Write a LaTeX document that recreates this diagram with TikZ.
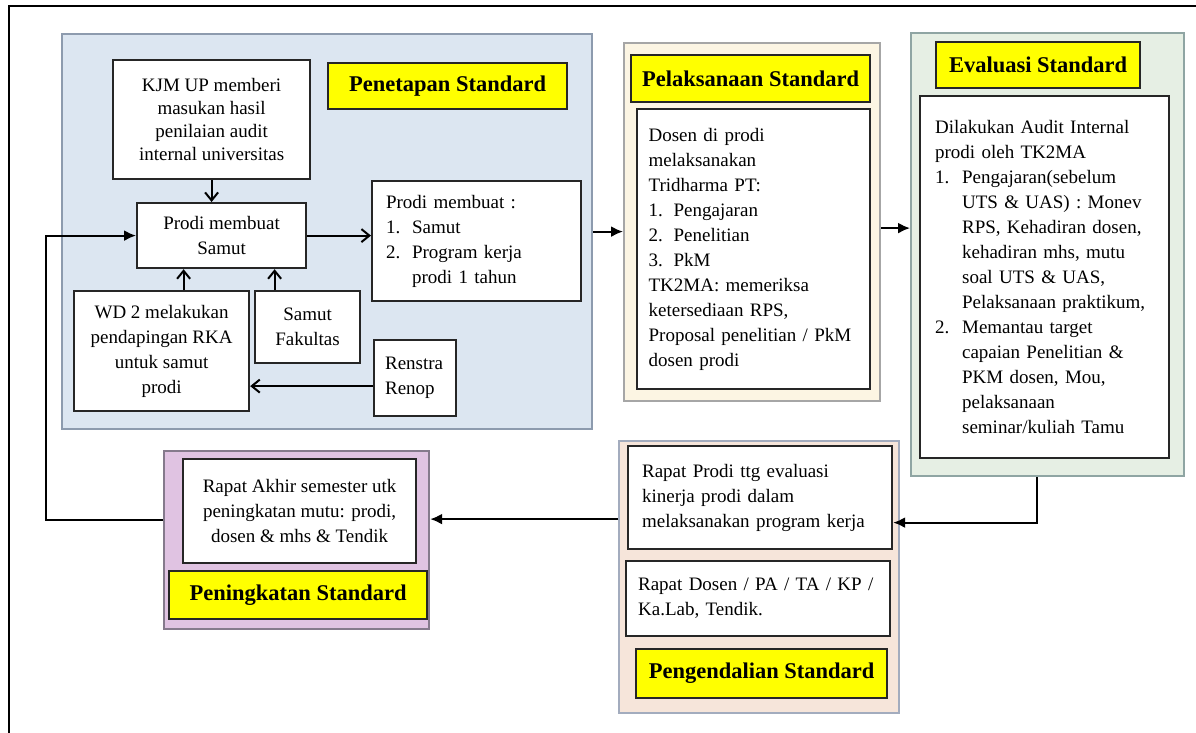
\documentclass[tikz,border=0pt]{standalone}
\usepackage{fontspec}
\setmainfont{Liberation Serif}
\usepackage{tikz}
\usetikzlibrary{arrows.meta}

\definecolor{penetapan}{HTML}{DCE6F1}
\definecolor{pelaksanaan}{HTML}{FCF5E3}
\definecolor{evaluasi}{HTML}{E6EFE4}
\definecolor{pengendalian}{HTML}{F6E5DA}
\definecolor{peningkatan}{HTML}{E0C3E2}
\definecolor{lineblue}{HTML}{8D9BAE}
\definecolor{linegray}{HTML}{A6A6A6}
\definecolor{lineteal}{HTML}{8FA5A3}
\definecolor{lineslate}{HTML}{A3ACBE}
\definecolor{lineplum}{HTML}{857A8C}
\definecolor{labelyellow}{HTML}{FFFF00}

\tikzset{
    grp/.style 2 args={draw=#2, line width=2.2pt, fill=#1, anchor=north west, inner sep=0pt},
    txtbox/.style={draw=black!85, line width=2.2pt, fill=white, anchor=north west,
        inner sep=0pt, font=\fontsize{19}{25}\selectfont},
    stdlabel/.style={draw=black!85, line width=2.2pt, fill=labelyellow, anchor=north west,
        inner sep=0pt, font=\fontsize{22.5}{26}\selectfont\bfseries},
    barb/.style={-{Straight Barb[length=8pt,width=13pt]}, line width=2pt},
    flow/.style={-{Latex[length=12pt,width=11pt]}, line width=2pt}
}

\begin{document}
\begin{tikzpicture}[x=1pt, y=-1pt]
        \useasboundingbox (0,0) rectangle (1196,733);

            % Penetapan
            \node[grp={penetapan}{lineblue}, minimum width=530pt, minimum height=395pt] (pen) at (61,33) {};
            \node[txtbox, minimum width=197pt, minimum height=119pt, align=center, font=\fontsize{19}{23}\selectfont] (kjm) at (112,59) {KJM UP memberi\\ masukan hasil\\ penilaian audit\\ internal universitas};
            \node[stdlabel, minimum width=239pt, minimum height=46pt] (penlbl) at (327,62) {Penetapan Standard};
            \node[txtbox, minimum width=169pt, minimum height=65pt, align=center] (samut) at (136,202) {Prodi membuat\\ Samut};
            \node[txtbox, inner xsep=14pt, text width=181pt, minimum height=120pt, align=left] (buat) at (371,180) {Prodi membuat :\\ \makebox[26pt][l]{1.}Samut\\ \makebox[26pt][l]{2.}Program kerja\\ \hspace*{26pt}prodi 1 tahun};
            \node[txtbox, minimum width=175pt, minimum height=120pt, align=center] (wd) at (73,290) {WD 2 melakukan\\ pendapingan RKA\\ untuk samut\\ prodi};
            \node[txtbox, minimum width=105pt, minimum height=72pt, align=center] (fak) at (254,290) {Samut\\ Fakultas};
            \node[txtbox, inner xsep=11pt, text width=60pt, minimum height=76pt, align=left] (renstra) at (373,339) {Renstra\\ Renop};

            % Pelaksanaan
            \node[grp={pelaksanaan}{linegray}, minimum width=256pt, minimum height=358pt] (pel) at (623,42) {};
            \node[stdlabel, minimum width=239pt, minimum height=47pt] (pellbl) at (630,54) {Pelaksanaan Standard};
            \node[txtbox, inner xsep=11.5pt, text width=210pt, minimum height=280pt, align=left] (tri) at (636,108) {Dosen di prodi\\ melaksanakan\\ Tridharma PT:\\ \makebox[25pt][l]{1.}Pengajaran\\ \makebox[25pt][l]{2.}Penelitian\\ \makebox[25pt][l]{3.}PkM\\ TK2MA: memeriksa\\ ketersediaan RPS,\\ Proposal penelitian / PkM\\ dosen prodi};

            % Evaluasi
            \node[grp={evaluasi}{lineteal}, minimum width=273pt, minimum height=443pt] (eva) at (910,32) {};
            \node[stdlabel, minimum width=204pt, minimum height=46pt] (evalbl) at (935,41) {Evaluasi Standard};
            \node[txtbox, inner xsep=15pt, text width=219pt, minimum height=362pt, align=left] (audit) at (919,95) {Dilakukan Audit Internal\\ prodi oleh TK2MA\\ \makebox[27pt][l]{1.}Pengajaran(sebelum\\ \hspace*{27pt}UTS \& UAS) : Monev\\ \hspace*{27pt}RPS, Kehadiran dosen,\\ \hspace*{27pt}kehadiran mhs, mutu\\ \hspace*{27pt}soal UTS \& UAS,\\ \hspace*{27pt}Pelaksanaan praktikum,\\ \makebox[27pt][l]{2.}Memantau target\\ \hspace*{27pt}capaian Penelitian \&\\ \hspace*{27pt}PKM dosen, Mou,\\ \hspace*{27pt}pelaksanaan\\ \hspace*{27pt}seminar/kuliah Tamu};

            % Pengendalian
            \node[grp={pengendalian}{lineslate}, minimum width=280pt, minimum height=272pt] (pgd) at (618,440) {};
            \node[txtbox, inner xsep=14pt, text width=236pt, minimum height=103pt, align=left] (rprodi) at (627,445) {Rapat Prodi ttg evaluasi\\ kinerja prodi dalam\\ melaksanakan program kerja};
            \node[txtbox, inner xsep=12pt, text width=240pt, minimum height=75pt, align=left] (rdosen) at (625,560) {Rapat Dosen / PA / TA / KP /\\ Ka.Lab, Tendik.};
            \node[stdlabel, minimum width=251pt, minimum height=49pt] (pgdlbl) at (635,648) {Pengendalian Standard};

            % Peningkatan
            \node[grp={peningkatan}{lineplum}, minimum width=265pt, minimum height=178pt] (pgk) at (163,450) {};
            \node[txtbox, minimum width=233pt, minimum height=104pt, align=center] (rakhir) at (182,458) {Rapat Akhir semester utk\\ peningkatan mutu: prodi,\\ dosen \& mhs \& Tendik};
            \node[stdlabel, minimum width=258pt, minimum height=48pt] (pgklbl) at (168,570) {Peningkatan Standard};

            \coordinate (back) at (46,520);

            \draw[barb] (kjm.south) -- (kjm.south |- samut.north);
            \draw[barb] ([xshift=22pt]wd.north) -- ([xshift=22pt]wd.north |- samut.south);
            \draw[barb] ([xshift=-33pt]fak.north) -- ([xshift=-33pt]fak.north |- samut.south);
            \draw[barb] (samut.east) -- (samut.east -| buat.west);
            \draw[barb] ([yshift=-8pt]renstra.west) -- ([yshift=-8pt]renstra.west -| wd.east);
            \draw[flow] (pen.east) -- (pen.east -| pel.west);
            \draw[flow] ([yshift=-6pt]pel.east) -- ([yshift=-6pt]pel.east -| eva.west);
            \draw[flow] ([xshift=-11pt]eva.south) |- ([yshift=-25pt]rprodi.east);
            \draw[flow] ([yshift=-8pt]rakhir.east -| pgd.west) -- ([yshift=-8pt]rakhir.east -| pgk.east);
            \draw[flow] (pgk.west |- back) -- (back) |- (samut.west);

            \draw[line width=2.5pt] (9,733) -- (9,6) -- (1196,6);

        \end{tikzpicture}
\end{document}
